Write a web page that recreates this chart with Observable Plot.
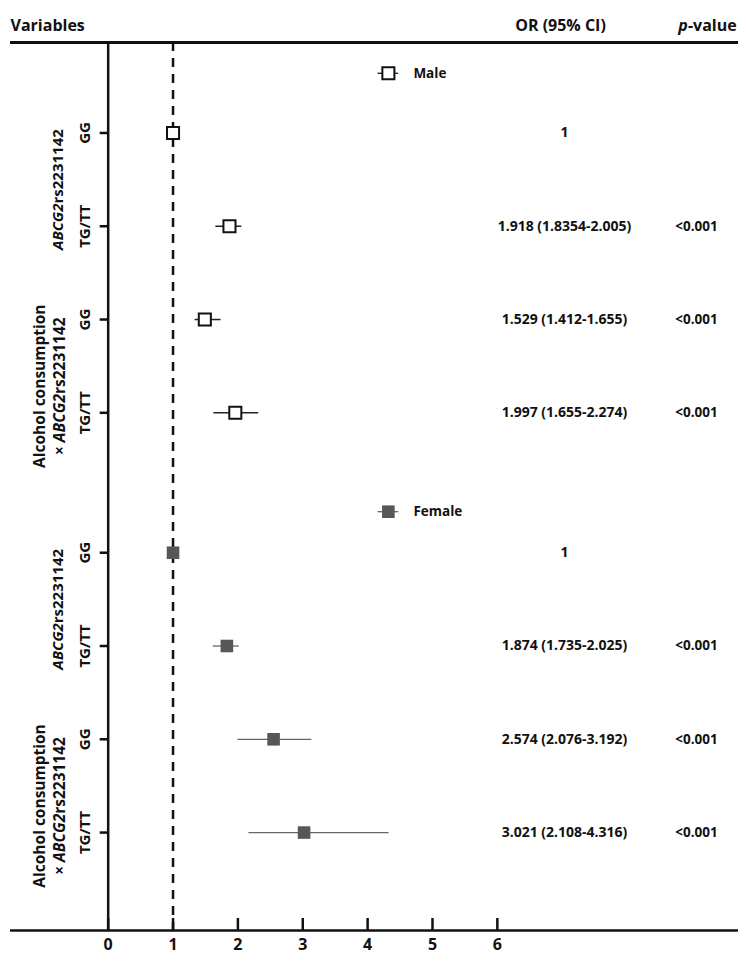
<!DOCTYPE html>
<html>
<head>
<meta charset="utf-8">
<script src="https://cdn.jsdelivr.net/npm/d3@7"></script>
<script src="https://cdn.jsdelivr.net/npm/@observablehq/plot@0.6"></script>
<style>
  body { margin: 0; background: #fff; }
  #chart svg { display: block; }
</style>
</head>
<body>
<div id="chart"></div>
<script>
// ---------- data ----------
const sexes = ["Male", "Female"];
const genotypes = ["GG", "TG/TT", "GG", "TG/TT"];
const variableNames = ["ABCG2rs2231142", "Alcohol consumption\n× ABCG2rs2231142"];

// plotted odds ratios and whisker ends
const maleOR = [1, 1.87, 1.49, 1.96];
const maleLo = [null, 1.66, 1.34, 1.63];
const maleHi = [null, 2.06, 1.74, 2.32];
const femaleOR = [1, 1.83, 2.55, 3.02];
const femaleLo = [null, 1.62, 2.00, 2.17];
const femaleHi = [null, 2.02, 3.14, 4.33];

// printed columns
const maleCI = ["1", "1.918 (1.8354-2.005)", "1.529 (1.412-1.655)", "1.997 (1.655-2.274)"];
const maleP = ["", "<0.001", "<0.001", "<0.001"];
const femaleCI = ["1", "1.874 (1.735-2.025)", "2.574 (2.076-3.192)", "3.021 (2.108-4.316)"];
const femaleP = ["", "<0.001", "<0.001", "<0.001"];

const headers = ["Variables", "OR (95% CI)", "p-value"];
const xTicks = [0, 1, 2, 3, 4, 5, 6];
const refLine = 1;

// ---------- build tables ----------
const series = [
  {sex: sexes[0], or: maleOR, lo: maleLo, hi: maleHi, ci: maleCI, p: maleP},
  {sex: sexes[1], or: femaleOR, lo: femaleLo, hi: femaleHi, ci: femaleCI, p: femaleP}
];
const rows = [];
series.forEach((s, si) => {
  genotypes.forEach((g, i) => {
    rows.push({
      sex: s.sex, genotype: g, group: i < 2 ? 0 : 1,
      or: s.or[i], lo: s.lo[i], hi: s.hi[i], ci: s.ci[i], p: s.p[i],
      pos: si * 4.5 + i + 1
    });
  });
});
const groups = [];
series.forEach((s, si) => {
  [0, 1].forEach(gi => {
    const r = rows.filter(d => d.sex === s.sex && d.group === gi);
    groups.push({sex: s.sex, group: gi, text: variableNames[gi], pos: d3.mean(r, d => d.pos)});
  });
});
const legend = series.map((s, si) => ({sex: s.sex, pos: si * 4.7 + 0.36, x: 4.32}));

const male = rows.filter(d => d.sex === "Male");
const female = rows.filter(d => d.sex === "Female");
const yDomain = [0.03, 9.55];
const xDomain = [-1.506, 9.718];
const ink = "#111";
const bold = {fontWeight: "bold", fill: ink};

const plot = Plot.plot({
  width: 746,
  height: 965,
  marginTop: 42,
  marginBottom: 35,
  marginLeft: 10,
  marginRight: 8,
  x: {domain: xDomain, axis: null},
  y: {domain: yDomain, reverse: true, axis: null},
  style: {fontFamily: "'Open Sans', 'DejaVu Sans', sans-serif", color: ink, background: "#fff", overflow: "visible"},
  marks: [
    // frame lines
    Plot.ruleY([yDomain[0]], {stroke: ink, strokeWidth: 3}),
    Plot.ruleY([yDomain[1]], {stroke: ink, strokeWidth: 2.5}),
    Plot.ruleX([0], {stroke: ink, strokeWidth: 2.5}),
    Plot.ruleX([refLine], {stroke: ink, strokeWidth: 2.5, strokeDasharray: "9,7"}),
    // x ticks (inward)
    Plot.ruleX(xTicks, {x: d => d, y1: yDomain[1], y2: yDomain[1], insetTop: -12, stroke: ink, strokeWidth: 2.5}),
    Plot.text(xTicks, {x: d => d, frameAnchor: "bottom", dy: 19, text: d => String(d), fontSize: 16, ...bold}),
    // y ticks (outward)
    Plot.ruleY(rows, {y: "pos", x1: 0, x2: 0, insetLeft: -8, stroke: ink, strokeWidth: 2.5}),
    // whiskers
    Plot.ruleY(male.filter(d => d.lo != null), {y: "pos", x1: "lo", x2: "hi", stroke: "#222", strokeWidth: 1.5}),
    Plot.ruleY(female.filter(d => d.lo != null), {y: "pos", x1: "lo", x2: "hi", stroke: "#666", strokeWidth: 1.3}),
    // points
    Plot.dot(male, {x: "or", y: "pos", symbol: "square", r: 6.8, fill: "#fff", stroke: ink, strokeWidth: 2}),
    Plot.dot(female, {x: "or", y: "pos", symbol: "square", r: 7.1, fill: "#575757", stroke: null}),
    // legends
    Plot.ruleY(legend, {y: "pos", x1: d => d.x - 0.16, x2: d => d.x + 0.16, stroke: d => d.sex === "Male" ? "#222" : "#666", strokeWidth: 1.3}),
    Plot.dot(legend.filter(d => d.sex === "Male"), {x: "x", y: "pos", symbol: "square", r: 6.8, fill: "#fff", stroke: ink, strokeWidth: 2}),
    Plot.dot(legend.filter(d => d.sex === "Female"), {x: "x", y: "pos", symbol: "square", r: 7.1, fill: "#575757", stroke: null}),
    Plot.text(legend, {x: "x", y: "pos", text: "sex", dx: 25, textAnchor: "start", fontSize: 13.5, ...bold}),
    // headers
    Plot.text([headers[0]], {frameAnchor: "top-left", dx: 0, dy: -23, textAnchor: "start", fontSize: 16, ...bold}),
    Plot.text([headers[1]], {frameAnchor: "top-left", dx: 550, dy: -23, textAnchor: "middle", fontSize: 16, ...bold}),
    Plot.text([headers[2]], {frameAnchor: "top-left", dx: 697, dy: -23, textAnchor: "middle", fontSize: 16, ...bold}),
    // value columns
    Plot.text(rows, {y: "pos", text: "ci", frameAnchor: "left", dx: 554, textAnchor: "middle", fontSize: 14, ...bold}),
    Plot.text(rows, {y: "pos", text: "p", frameAnchor: "left", dx: 686, textAnchor: "middle", fontSize: 13.5, ...bold}),
    // row labels
    Plot.text(rows, {y: "pos", text: "genotype", frameAnchor: "left", dx: 75, rotate: -90, textAnchor: "middle", fontSize: 15, ...bold}),
    // group labels
    Plot.text(groups.filter(d => d.group === 0), {y: "pos", text: "text", frameAnchor: "left", dx: 48, dy: 10, rotate: -90, textAnchor: "middle", fontSize: 15, ...bold}),
    Plot.text(groups.filter(d => d.group === 1), {y: "pos", text: "text", frameAnchor: "left", dx: 38, dy: 20, rotate: -90, textAnchor: "middle", lineHeight: 1.3, fontSize: 15.5, ...bold})
  ]
});

// italic gene symbol and p
function italicize(el, word) {
  const t = el.textContent;
  const k = t.indexOf(word);
  if (k < 0) return;
  const ns = "http://www.w3.org/2000/svg";
  el.textContent = "";
  if (k > 0) el.appendChild(document.createTextNode(t.slice(0, k)));
  const sp = document.createElementNS(ns, "tspan");
  sp.setAttribute("font-style", "italic");
  sp.textContent = word;
  el.appendChild(sp);
  const rest = t.slice(k + word.length);
  if (rest) el.appendChild(document.createTextNode(rest));
}
plot.querySelectorAll("text, tspan").forEach(el => {
  if (el.childNodes.length === 1 && el.firstChild.nodeType === 3) {
    if (el.textContent.includes("ABCG2")) italicize(el, "ABCG2");
    else if (el.textContent === "p-value") italicize(el, "p");
  }
});

document.getElementById("chart").appendChild(plot);
</script>
</body>
</html>
